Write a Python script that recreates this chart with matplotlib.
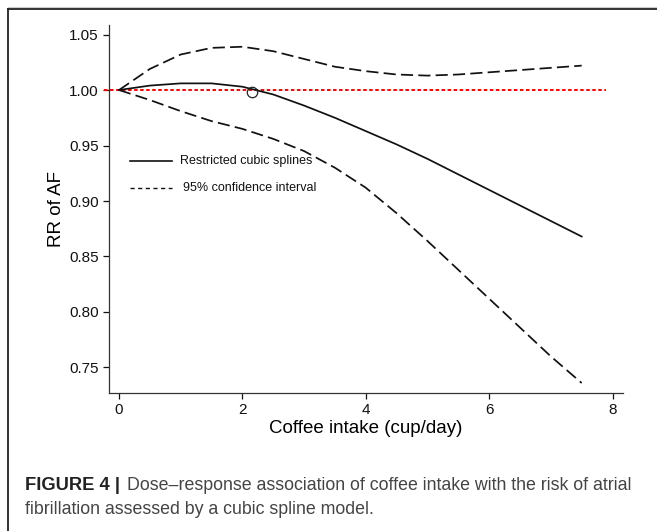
import matplotlib.pyplot as plt
from matplotlib.lines import Line2D
import numpy as np

plt.rcParams['font.family'] = ['Liberation Sans', 'DejaVu Sans']

# coffee intake (cup/day) and curves
intake = [0, 0.5, 1.0, 1.5, 2.0, 2.5, 3.0, 3.5, 4.0, 4.5, 5.0, 5.5, 6.0, 6.5, 7.0, 7.5]
rr_spline = [1.000, 1.004, 1.006, 1.006, 1.003, 0.996, 0.986, 0.975,
             0.963, 0.951, 0.938, 0.924, 0.910, 0.896, 0.882, 0.868]
rr_upper = [1.000, 1.019, 1.032, 1.038, 1.039, 1.035, 1.028, 1.021,
            1.017, 1.014, 1.013, 1.014, 1.016, 1.018, 1.020, 1.022]
rr_lower = [1.000, 0.991, 0.981, 0.972, 0.965, 0.956, 0.945, 0.930,
            0.912, 0.889, 0.864, 0.838, 0.812, 0.786, 0.760, 0.736]

ref_point = (2.15, 0.998)
x_ticks = [0, 2, 4, 6, 8]
y_ticks = [0.75, 0.80, 0.85, 0.90, 0.95, 1.00, 1.05]

fig = plt.figure(figsize=(6.57, 5.31), dpi=100)
ax = fig.add_axes([109/657, 1 - 393/531, (623-109)/657, (393-25)/531])

ax.plot([-0.25, 7.9], [1, 1], color='red', lw=1.4, linestyle=(0, (1.8, 1.3)), clip_on=False)
ax.plot(intake, rr_upper, color='#111111', lw=1.25, linestyle=(0, (7, 3)))
ax.plot(intake, rr_lower, color='#111111', lw=1.25, linestyle=(0, (7, 3)))
ax.plot(intake, rr_spline, color='#111111', lw=1.25)
ax.plot(*ref_point, marker='o', ms=7.5, mfc='none', mec='#222222', mew=0.9)

ax.set_xlim(-0.162, 8.17)
ax.set_ylim(0.727, 1.0586)
ax.set_xticks(x_ticks)
ax.set_yticks(y_ticks)
ax.set_yticklabels(['%.2f' % v for v in y_ticks])
ax.tick_params(direction='out', length=4, width=0.9, labelsize=11, colors='#111111')
for s in ['top', 'right']:
    ax.spines[s].set_visible(False)
for s in ['left', 'bottom']:
    ax.spines[s].set_linewidth(0.9)
    ax.spines[s].set_color('#333333')

ax.set_ylabel('RR of AF', fontsize=13.5, labelpad=3)
ax.set_xlabel('Coffee intake (cup/day)', fontsize=13.5, labelpad=2)

# legend drawn by hand inside the plot
W, H = 657, 531
fig.add_artist(Line2D([130/W, 172/W], [1-161/H, 1-161/H], color='#111111', lw=1.2))
fig.add_artist(Line2D([130/W, 172/W], [1-188/H, 1-188/H], color='#111111', lw=1.0,
                      linestyle=(0, (3, 2.5))))
fig.text(180/W, 1-161/H, 'Restricted cubic splines', fontsize=9, va='center', color='#111111')
fig.text(183/W, 1-188/H, '95% confidence interval', fontsize=9, va='center', color='#111111')

# frame lines
fig.add_artist(Line2D([8/W, 1], [1-7/H, 1-7/H], color='#cccccc', lw=0.8))
fig.add_artist(Line2D([8/W, 1], [1-9/H, 1-9/H], color='#222222', lw=1.3))
fig.add_artist(Line2D([8/W, 8/W], [0, 1-9/H], color='#222222', lw=1.3))

# caption
fig.text(25/W, 1-485/H, 'FIGURE 4 |', fontsize=13.2, fontweight='bold', va='center', color='#222222')
fig.text(127/W, 1-485/H, 'Dose\u2013response association of coffee intake with the risk of atrial',
         fontsize=12.8, va='center', color='#444444')
fig.text(25/W, 1-510/H, 'fibrillation assessed by a cubic spline model.',
         fontsize=12.8, va='center', color='#444444')

fig.savefig('out.png', dpi=100, facecolor='white')
